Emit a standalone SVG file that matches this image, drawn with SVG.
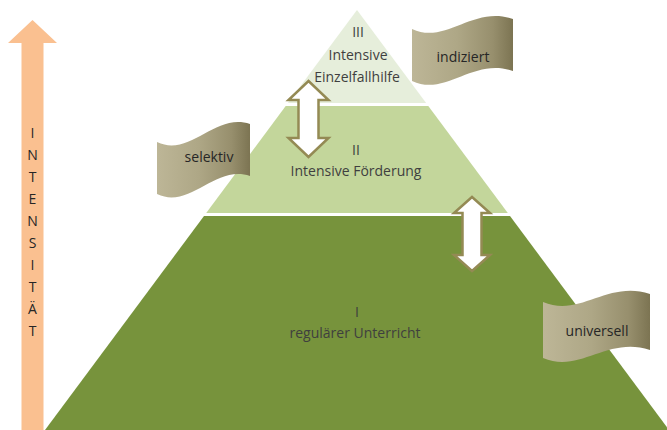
<svg xmlns="http://www.w3.org/2000/svg" width="667" height="430" viewBox="0 0 667 430">
<defs>
<linearGradient id="scrollGrad" x1="0" y1="0" x2="1" y2="0">
<stop offset="0" stop-color="#bdb697"/>
<stop offset="0.45" stop-color="#aea786"/>
<stop offset="0.8" stop-color="#978f6d"/>
<stop offset="1" stop-color="#7c7452"/>
</linearGradient>
<style>
.t{font-family:"Open Sans","Liberation Sans",sans-serif;font-size:14px;fill:#3f3f3f;text-anchor:middle}
.s{font-family:"Open Sans","Liberation Sans",sans-serif;font-size:14px;fill:#262626;text-anchor:middle}
.dbl{fill:#ffffff;stroke:#948a54;stroke-width:2.5;stroke-linejoin:miter}
.scroll{fill:url(#scrollGrad)}
</style>
</defs>
<rect width="667" height="430" fill="#ffffff"/>

<g id="intensity-arrow">
<polygon points="32.5,20 57,43 43.5,43 43.5,430 21.5,430 21.5,43 8,43" fill="#fac090"/>
<text class="s" x="32.5" y="138"><tspan x="32.5">I</tspan><tspan x="32.5" dy="22">N</tspan><tspan x="32.5" dy="22">T</tspan><tspan x="32.5" dy="22">E</tspan><tspan x="32.5" dy="22">N</tspan><tspan x="32.5" dy="22">S</tspan><tspan x="32.5" dy="22">I</tspan><tspan x="32.5" dy="22">T</tspan><tspan x="32.5" dy="22">Ä</tspan><tspan x="32.5" dy="22">T</tspan></text>
</g>

<g id="tier1">
<polygon points="204,216 510,216 669,430 45,430" fill="#77933c"/>
<text class="t" x="357" y="317">I</text>
<text class="t" x="355" y="338">regulärer Unterricht</text>
</g>

<g id="tier2">
<polygon points="285.7,106 428.3,106 507.8,213 206.2,213" fill="#c3d69b"/>
<text class="t" x="356" y="155">II</text>
<text class="t" x="356" y="176">Intensive Förderung</text>
</g>

<g id="tier3">
<polygon points="357,10 426.1,103 287.9,103" fill="#e6eedb"/>
<text class="t" x="358" y="36.5">III</text>
<text class="t" x="358" y="59.5">Intensive</text>
<text class="t" x="357" y="81.5">Einzelfallhilfe</text>
</g>

<g id="connectors">
<polygon class="dbl" points="308.5,81 328.5,100 318.5,100 318.5,138 328.5,138 308.5,157 288.5,138 298.5,138 298.5,100 288.5,100"/>
<polygon class="dbl" points="472,197 490,213 481.5,213 481.5,255 490,255 472,271 454,255 462.5,255 462.5,213 454,213"/>
</g>

<g id="selektiv">
<path class="scroll" d="M157,142 C190,158 215,112 250,124 L250,176 C215,164 190,210 157,194 Z"/>
<text class="s" x="209" y="162">selektiv</text>
</g>

<g id="indiziert">
<path class="scroll" d="M412,29 C446,45 473,5 513,19 L513,71 C473,57 446,97 412,81 Z"/>
<text class="s" x="463" y="62">indiziert</text>
</g>

<g id="universell">
<path class="scroll" d="M543,302 C580,318 607,280 650,294 L650,350 C607,336 580,374 543,358 Z"/>
<text class="s" x="597" y="336">universell</text>
</g>
</svg>
